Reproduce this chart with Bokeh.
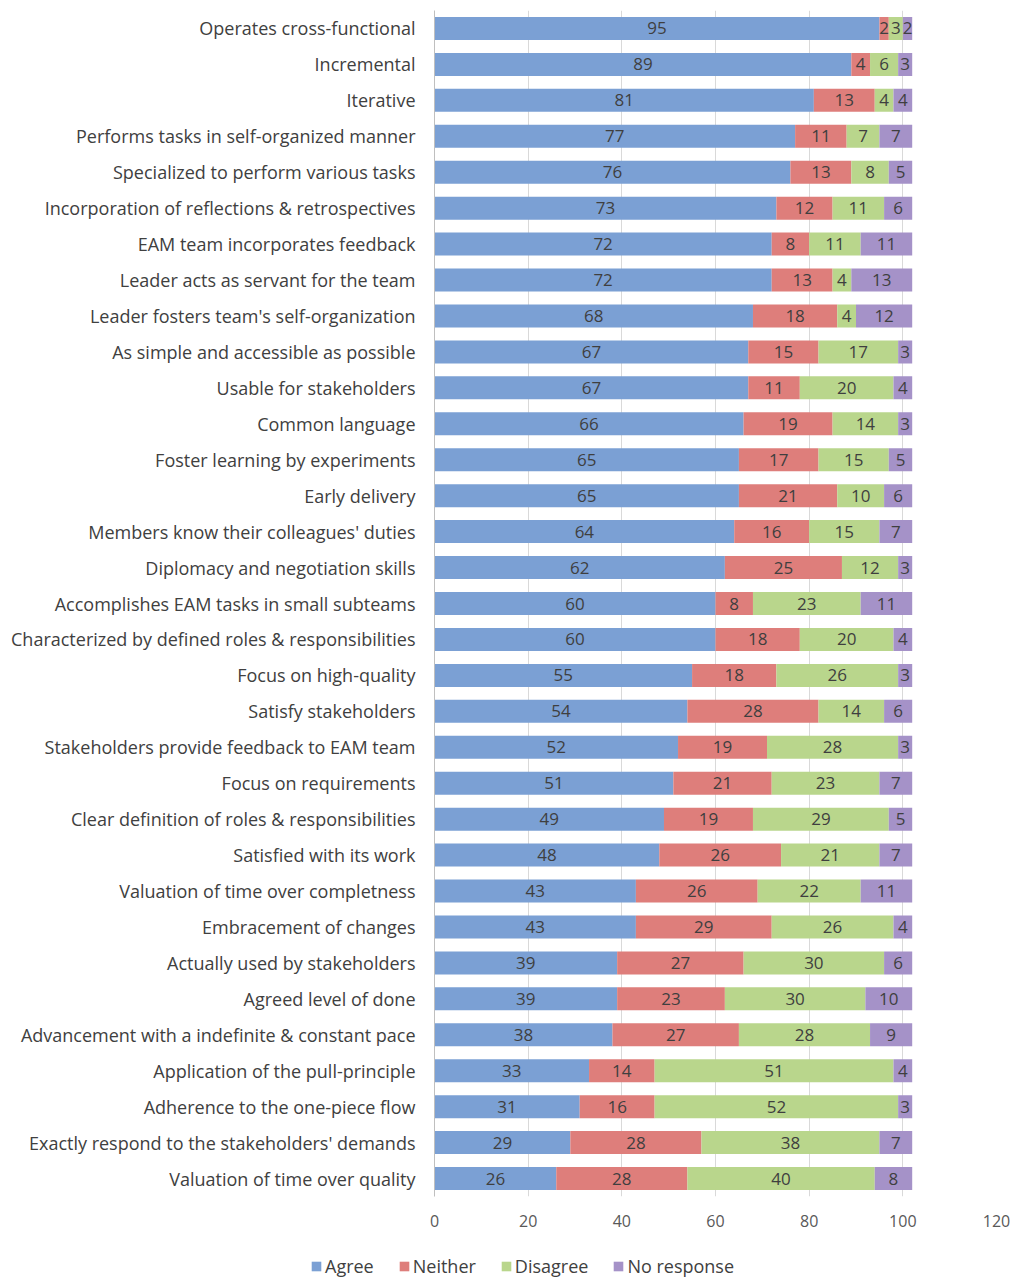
from bokeh.plotting import figure
from bokeh.models import ColumnDataSource, FactorRange, Range1d, Legend, LegendItem, FixedTicker
from bokeh.embed import file_html
from bokeh.resources import INLINE
from bokeh.core.properties import value

categories = [
    "Operates cross-functional",
    "Incremental",
    "Iterative",
    "Performs tasks in self-organized manner",
    "Specialized to perform various tasks",
    "Incorporation of reflections & retrospectives",
    "EAM team incorporates feedback",
    "Leader acts as servant for the team",
    "Leader fosters team's self-organization",
    "As simple and accessible as possible",
    "Usable for stakeholders",
    "Common language",
    "Foster learning by experiments",
    "Early delivery",
    "Members know their colleagues' duties",
    "Diplomacy and negotiation skills",
    "Accomplishes EAM tasks in small subteams",
    "Characterized by defined roles & responsibilities",
    "Focus on high-quality",
    "Satisfy stakeholders",
    "Stakeholders provide feedback to EAM team",
    "Focus on requirements",
    "Clear definition of roles & responsibilities",
    "Satisfied with its work",
    "Valuation of time over completness",
    "Embracement of changes",
    "Actually used by stakeholders",
    "Agreed level of done",
    "Advancement with a indefinite & constant pace",
    "Application of the pull-principle",
    "Adherence to the one-piece flow",
    "Exactly respond to the stakeholders' demands",
    "Valuation of time over quality",
]
agree = [95, 89, 81, 77, 76, 73, 72, 72, 68, 67, 67, 66, 65, 65, 64, 62, 60, 60, 55, 54, 52, 51, 49, 48, 43, 43, 39, 39, 38, 33, 31, 29, 26]
neither = [2, 4, 13, 11, 13, 12, 8, 13, 18, 15, 11, 19, 17, 21, 16, 25, 8, 18, 18, 28, 19, 21, 19, 26, 26, 29, 27, 23, 27, 14, 16, 28, 28]
disagree = [3, 6, 4, 7, 8, 11, 11, 4, 4, 17, 20, 14, 15, 10, 15, 12, 23, 20, 26, 14, 28, 23, 29, 21, 22, 26, 30, 30, 28, 51, 52, 38, 40]
no_response = [2, 3, 4, 7, 5, 6, 11, 13, 12, 3, 4, 3, 5, 6, 7, 3, 11, 4, 3, 6, 3, 7, 5, 7, 11, 4, 6, 10, 9, 4, 3, 7, 8]
series_names = ["Agree", "Neither", "Disagree", "No response"]
x_ticks = [0, 20, 40, 60, 80, 100, 120]

colors = ["#7ba0d4", "#de7e7b", "#b9d68c", "#a592c8"]
FONT = "Open Sans"

data = {"cat": categories}
series = [agree, neither, disagree, no_response]
for name, vals in zip(series_names, series):
    data[name] = vals
src = ColumnDataSource(data)

# label positions derived from the data
lx, ly, lt = [], [], []
for i, cat in enumerate(categories):
    left = 0
    for vals in series:
        v = vals[i]
        lx.append(left + v / 2.0)
        ly.append(cat)
        lt.append(str(v))
        left += v
lsrc = ColumnDataSource(dict(x=lx, y=ly, t=lt))

p = figure(width=1011, height=1237,
           y_range=FactorRange(*reversed(categories)),
           x_range=Range1d(0, 120),
           output_backend="svg", toolbar_location=None,
           min_border_left=434, min_border_top=10, min_border_right=15,
           min_border_bottom=41)
p.outline_line_color = None

renderers = p.hbar_stack(series_names, y="cat", height=0.64, color=colors,
                         line_color=None, source=src)

p.text(x="x", y="y", text="t", source=lsrc, text_align="center",
       text_baseline="middle", text_font=value(FONT), text_font_size="17px",
       text_color="#3f3f3f")

p.xaxis.ticker = FixedTicker(ticks=x_ticks)
p.xaxis.axis_line_color = None
p.xaxis.major_tick_line_color = None
p.xaxis.minor_tick_line_color = None
p.xaxis.major_label_standoff = 12
p.xaxis.major_label_text_font = FONT
p.xaxis.major_label_text_font_size = "16px"
p.xaxis.major_label_text_color = "#595959"

p.yaxis.axis_line_color = "#bfbfbf"
p.yaxis.major_tick_line_color = None
p.yaxis.minor_tick_line_color = None
p.yaxis.major_label_standoff = 13
p.yaxis.major_label_text_font = FONT
p.yaxis.major_label_text_font_size = "18px"
p.yaxis.major_label_text_color = "#404040"

p.xgrid.grid_line_color = "#d9d9d9"
p.ygrid.grid_line_color = None

# legend strip below the chart (separate root, keyed to hidden copies of the series)
lg = figure(width=1011, height=42, x_range=Range1d(0, 1011),
            y_range=FactorRange(*categories),
            x_axis_location=None, y_axis_location=None,
            output_backend="svg", toolbar_location=None,
            min_border_left=0, min_border_right=0, min_border_top=0, min_border_bottom=0)
lg.grid.grid_line_color = None
lg.outline_line_color = None
keys = lg.hbar_stack(series_names, y="cat", height=0.64, color=colors,
                     line_color=None, source=src, visible=False)
legend = Legend(items=[LegendItem(label=n, renderers=[r]) for n, r in zip(series_names, keys)],
                orientation="horizontal", location=(310, 1),
                glyph_width=12, glyph_height=12, label_standoff=3, spacing=24,
                label_text_font=FONT, label_text_font_size="18px",
                label_text_color="#404040", border_line_color=None,
                background_fill_alpha=0, padding=0, margin=0,
                inactive_fill_alpha=0)
lg.add_layout(legend, "center")

open("out.html", "w").write(file_html([p, lg], INLINE))
